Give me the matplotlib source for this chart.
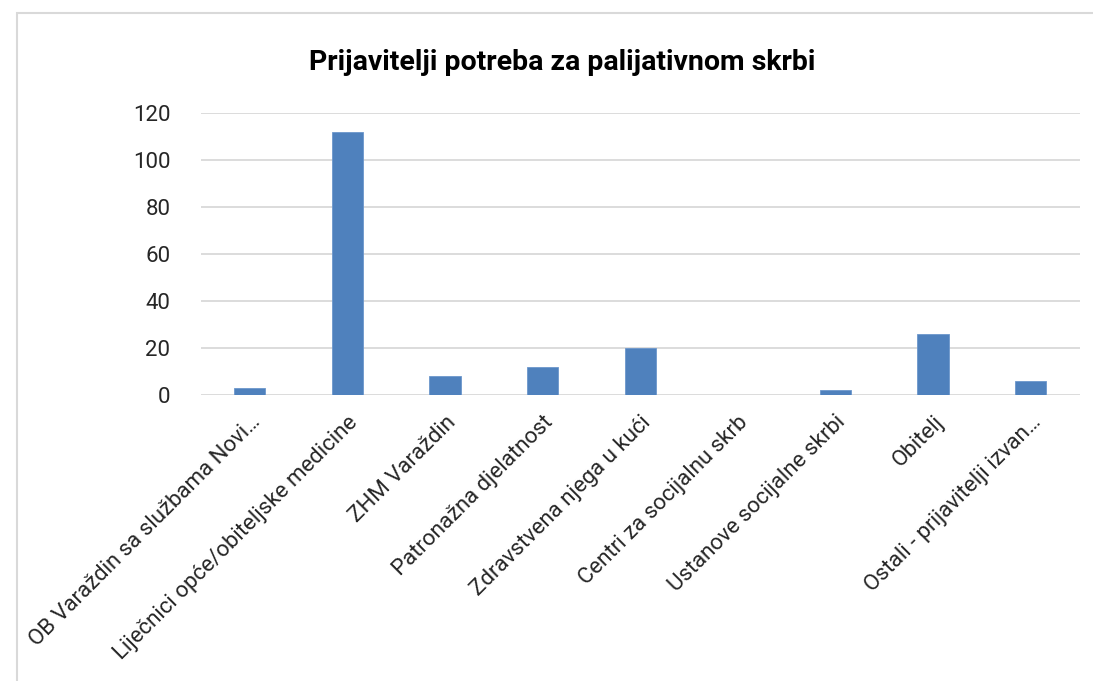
import matplotlib
matplotlib.use("Agg")
import matplotlib.pyplot as plt
from matplotlib.patches import Rectangle

categories = [
    "OB Varaždin sa službama Novi…",
    "Liječnici opće/obiteljske medicine",
    "ZHM Varaždin",
    "Patronažna djelatnost",
    "Zdravstvena njega u kući",
    "Centri za socijalnu skrb",
    "Ustanove socijalne skrbi",
    "Obitelj",
    "Ostali - prijavitelji izvan…",
]
values = [3, 112, 8, 12, 20, 0, 2, 26, 6]
yticks = [0, 20, 40, 60, 80, 100, 120]
title = "Prijavitelji potreba za palijativnom skrbi"

W, H = 1093, 681
fig = plt.figure(figsize=(W / 100, H / 100), dpi=100)
fig.patch.set_facecolor("white")

# outer chart border
fig.patches.append(Rectangle((17 / W, -0.2), 1.2, 1.2 - 13 / H,
                             transform=fig.transFigure, fill=False,
                             edgecolor="#d9d9d9", linewidth=1.5))

left, right = 200.9 / W, 1079.5 / W
bottom, top = 1 - 395 / H, 1 - 113 / H
ax = fig.add_axes([left, bottom, right - left, top - bottom])

x = list(range(len(categories)))
ax.bar(x, values, width=0.32, color="#4f81bd", edgecolor="#6c97cc", linewidth=0.6, zorder=3)
ax.set_xlim(-0.5, len(categories) - 0.5)
ax.set_ylim(0, 120)
ax.set_yticks(yticks)
ax.set_yticklabels([str(v) for v in yticks], fontsize=16, color="#262626", family="Roboto")
ax.yaxis.grid(True, color="#d9d9d9", linewidth=1.3, zorder=0)
ax.set_axisbelow(True)
for s in ax.spines.values():
    s.set_visible(False)
ax.tick_params(axis="both", length=0)
ax.tick_params(axis="y", pad=22)
ax.set_xticks(x)
ax.set_xticklabels(categories, rotation=45, ha="right", va="top",
                   rotation_mode="anchor", fontsize=16, color="#262626", family="Roboto")
ax.tick_params(axis="x", pad=12)

fig.text(562 / W, 1 - 62 / H, title, ha="center", va="center",
         fontsize=20.5, fontweight="bold", family="Roboto", color="black")

fig.savefig("out.png", dpi=100)
